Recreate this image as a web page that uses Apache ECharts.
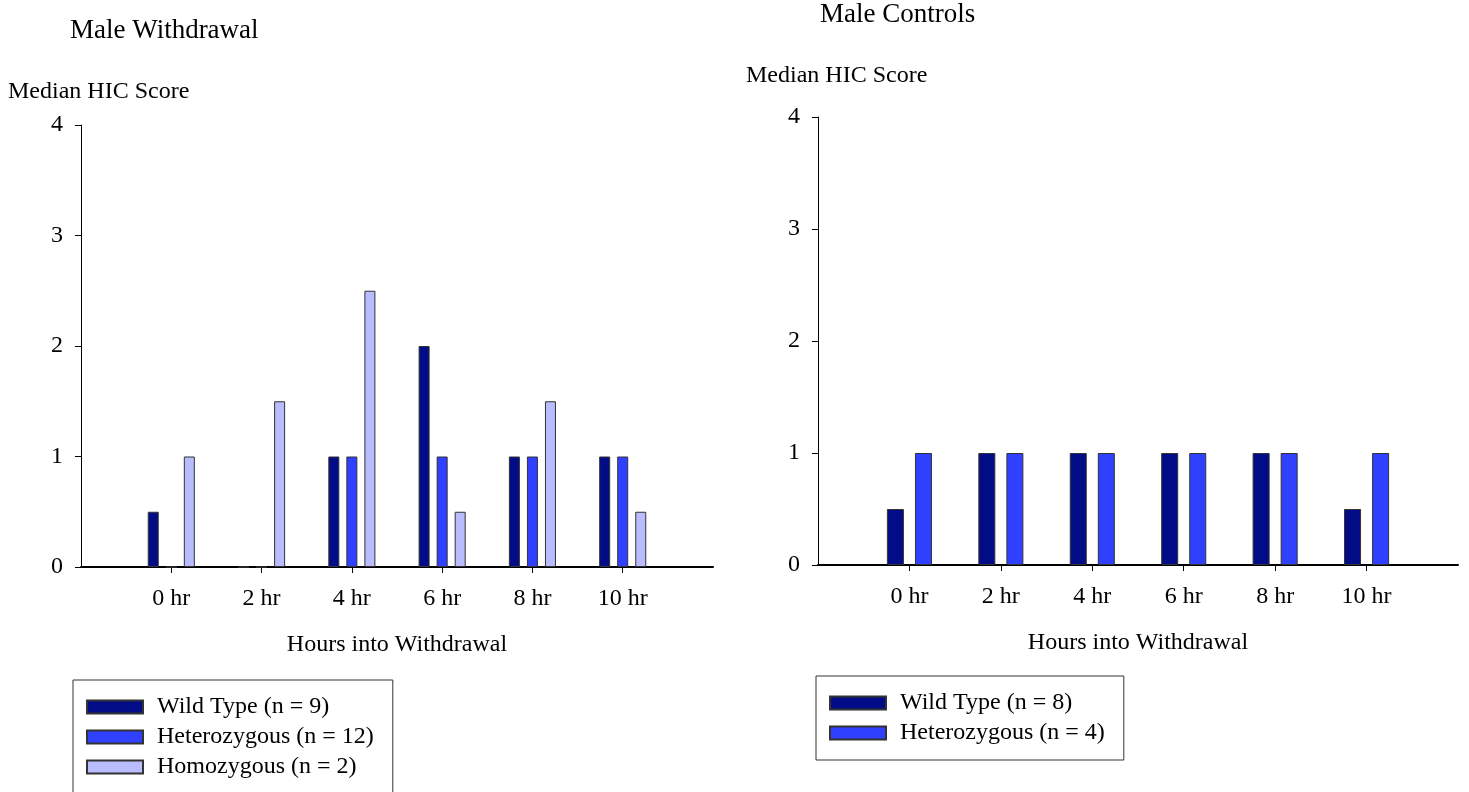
<!DOCTYPE html>
<html>
<head>
<meta charset="utf-8">
<title>Male HIC Scores</title>
<script src="https://cdn.jsdelivr.net/npm/echarts@6/dist/echarts.min.js"></script>
<style>
  html, body { margin: 0; padding: 0; background: #ffffff; }
  #chart { width: 1469px; height: 792px; }
</style>
</head>
<body>
<div id="chart"></div>
<script>
// Time points and median HIC scores per genotype
const hours = ['0 hr', '2 hr', '4 hr', '6 hr', '8 hr', '10 hr'];

const withdrawalWildType = [0.5, 0, 1, 2, 1, 1];
const withdrawalHetero   = [0, 0, 1, 1, 1, 1];
const withdrawalHomo     = [1, 1.5, 2.5, 0.5, 1.5, 0.5];

const controlWildType = [0.5, 1, 1, 1, 1, 0.5];
const controlHetero   = [1, 1, 1, 1, 1, 1];

const withdrawalNames = ['Wild Type (n = 9)', 'Heterozygous (n = 12)', 'Homozygous (n = 2)'];
const controlNames    = ['Wild Type (n = 8)', 'Heterozygous (n = 4)'];

const yTicks = [0, 1, 2, 3, 4];

const FONT = '"Liberation Serif", "Times New Roman", serif';
const COLORS = { wild: '#020c86', het: '#3040ff', homo: '#b9bdff' };

// The axis keeps one empty slot before the first hour and one after the last
const axisCats = [''].concat(hours, [' ']);
const pad = arr => [null].concat(arr, [null]);

function xAxisFor(gridIndex) {
  return {
    type: 'category',
    gridIndex,
    data: axisCats,
    boundaryGap: false,
    name: 'Hours into Withdrawal',
    nameLocation: 'middle',
    nameGap: 66,
    nameTextStyle: { fontFamily: FONT, fontSize: 24, color: '#000' },
    axisLine: { show: true, lineStyle: { color: '#000', width: 2 } },
    axisTick: {
      show: true, length: 6, inside: false,
      interval: i => i > 0 && i < axisCats.length - 1,
      lineStyle: { color: '#000', width: 1 }
    },
    axisLabel: {
      interval: 0, margin: 20,
      fontFamily: FONT, fontSize: 24, color: '#000'
    },
    splitLine: { show: false }
  };
}

function yAxisFor(gridIndex) {
  return {
    type: 'value',
    gridIndex,
    min: yTicks[0],
    max: yTicks[yTicks.length - 1],
    interval: 1,
    axisLine: { show: true, lineStyle: { color: '#000', width: 1 } },
    axisTick: { show: true, length: 6, inside: false, lineStyle: { color: '#000', width: 1 } },
    axisLabel: { margin: 18, fontFamily: FONT, fontSize: 24, color: '#000' },
    splitLine: { show: false }
  };
}

function barSeries(name, values, color, axisIndex, width, gap) {
  return {
    type: 'bar',
    name,
    xAxisIndex: axisIndex,
    yAxisIndex: axisIndex,
    data: pad(values),
    barWidth: width,
    barGap: gap,
    itemStyle: { color, borderColor: '#333', borderWidth: 1 },
    emphasis: { disabled: true }
  };
}

const legendCommon = {
  orient: 'vertical',
  selectedMode: false,
  icon: 'rect',
  itemWidth: 56,
  itemHeight: 13,
  itemGap: 6,
  height: 130,
  padding: [15, 19, 15, 13],
  borderColor: '#333',
  borderWidth: 1,
  textStyle: { fontFamily: FONT, fontSize: 24, color: '#000', lineHeight: 24, padding: [0, 0, 0, 9] }
};

const chart = echarts.init(document.getElementById('chart'), null, { renderer: 'canvas' });

chart.setOption({
  backgroundColor: '#ffffff',
  animation: false,
  textStyle: { fontFamily: FONT },
  title: [
    { text: 'Male Withdrawal', left: 70, top: 17, padding: 0,
      textStyle: { fontFamily: FONT, fontSize: 27, fontWeight: 'normal', color: '#000' } },
    { text: 'Median HIC Score', left: 8, top: 80, padding: 0,
      textStyle: { fontFamily: FONT, fontSize: 24, fontWeight: 'normal', color: '#000' } },
    { text: 'Male Controls', left: 820, top: 1, padding: 0,
      textStyle: { fontFamily: FONT, fontSize: 27, fontWeight: 'normal', color: '#000' } },
    { text: 'Median HIC Score', left: 746, top: 64, padding: 0,
      textStyle: { fontFamily: FONT, fontSize: 24, fontWeight: 'normal', color: '#000' } }
  ],
  grid: [
    { left: 81, top: 125, width: 632, height: 442, containLabel: false, outerBoundsMode: 'none' },
    { left: 818, top: 117, width: 640, height: 448, containLabel: false, outerBoundsMode: 'none' }
  ],
  xAxis: [xAxisFor(0), xAxisFor(1)],
  yAxis: [yAxisFor(0), yAxisFor(1)],
  legend: [
    Object.assign({}, legendCommon, { left: 73, top: 680, data: withdrawalNames }),
    Object.assign({}, legendCommon, { left: 816, top: 676, data: controlNames })
  ],
  series: [
    barSeries(withdrawalNames[0], withdrawalWildType, COLORS.wild, 0, 11, '64%'),
    barSeries(withdrawalNames[1], withdrawalHetero,   COLORS.het,  0, 11, '64%'),
    barSeries(withdrawalNames[2], withdrawalHomo,     COLORS.homo, 0, 11, '64%'),
    barSeries(controlNames[0], controlWildType, COLORS.wild, 1, 17, '65%'),
    barSeries(controlNames[1], controlHetero,   COLORS.het,  1, 17, '65%')
  ]
});
</script>
</body>
</html>
